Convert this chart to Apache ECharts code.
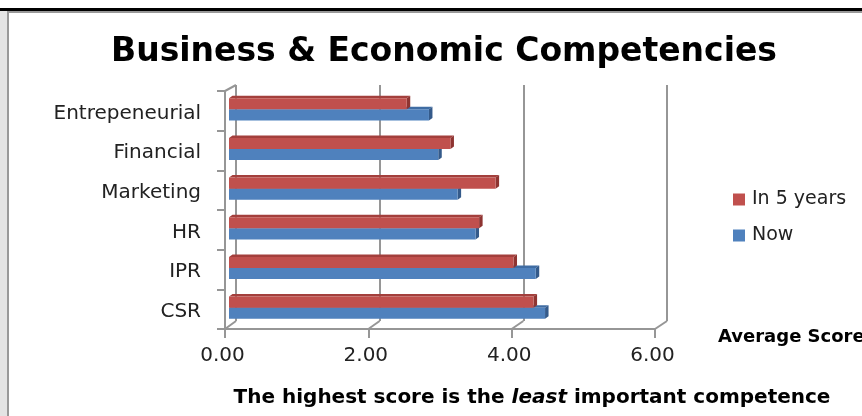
<!DOCTYPE html>
<html>
<head>
<meta charset="utf-8">
<script src="https://cdn.jsdelivr.net/npm/echarts@6/dist/echarts.min.js"></script>
<style>
  html, body { margin: 0; padding: 0; background: #fff; }
  #chart { width: 862px; height: 416px; }
</style>
</head>
<body>
<div id="chart"></div>
<script>
// ---- data ----
const categories = ['Entrepeneurial', 'Financial', 'Marketing', 'HR', 'IPR', 'CSR'];
const in5Years = [2.48, 3.09, 3.72, 3.49, 3.97, 4.25];
const nowScores = [2.79, 2.92, 3.19, 3.44, 4.28, 4.41];
const seriesNames = ['In 5 years', 'Now'];
const xMin = 0, xMax = 6, xStep = 2;
const titleText = 'Business & Economic Competencies';
const axisName = 'Average Score';

const RED = '#C0504D', RED_DARK = '#8E3431', RED_TOP = '#A33F3C';
const BLUE = '#4F81BD', BLUE_DARK = '#345A8A', BLUE_TOP = '#3F6CA3';
const GRID_COLOR = '#969696';
const LABEL_FONT = 'DejaVu Sans';

function bar3D(upper, front, top, side) {
  return function (params, api) {
    const v = api.value(0), ci = api.value(1);
    const p0 = api.coord([0, ci]);
    const p1 = api.coord([v, ci]);
    const bw = api.size([0, 1])[1];
    const h = bw * 0.28;
    const dx0 = 4, dy0 = -1.5;   // depth placement of bar
    const ddx = 3.5, ddy = -2.5; // bar depth
    const c = p0[1] + dy0;
    const yt = upper ? c - h : c;
    const yb = yt + h;
    const xl = p0[0] + dx0, xr = p1[0] + dx0;
    return {
      type: 'group',
      children: [
        { type: 'polygon', shape: { points: [[xl, yt], [xr, yt], [xr + ddx, yt + ddy], [xl + ddx, yt + ddy]] }, style: { fill: top } },
        { type: 'polygon', shape: { points: [[xr, yt], [xr, yb], [xr + ddx, yb + ddy], [xr + ddx, yt + ddy]] }, style: { fill: side } },
        { type: 'rect', shape: { x: xl, y: yt, width: xr - xl, height: h }, style: { fill: front } }
      ]
    };
  };
}

const chart = echarts.init(document.getElementById('chart'), null, { renderer: 'canvas' });

const option = {
  animation: false,
  backgroundColor: '#fff',
  title: [
    {
      text: titleText, left: 439, top: 31, textAlign: 'center',
      textStyle: { fontFamily: 'DejaVu Sans', fontWeight: 'bold', fontSize: 33, color: '#000' }
    },
    {
      text: '{b|The highest score is the }{i|least}{b| important competence}',
      left: 527, top: 383, textAlign: 'center',
      textStyle: {
        rich: {
          b: { fontFamily: 'DejaVu Sans', fontWeight: 'bold', fontSize: 20, color: '#000' },
          i: { fontFamily: 'DejaVu Sans', fontWeight: 'bold', fontStyle: 'italic', fontSize: 20, color: '#000' }
        }
      }
    }
  ],
  legend: {
    data: seriesNames, orient: 'vertical', left: 728, top: 185, itemGap: 17,
    itemWidth: 12, itemHeight: 12, icon: 'rect',
    textStyle: { fontFamily: LABEL_FONT, fontSize: 19, color: '#222', padding: [0, 0, 0, 2] }
  },
  grid: [
    { left: 225, right: 862 - 655, top: 91, bottom: 416 - 329, containLabel: false, outerBoundsMode: 'none' },
    { left: 236, right: 862 - 667, top: 85, bottom: 416 - 321, containLabel: false, outerBoundsMode: 'none' }
  ],
  xAxis: [
    {
      type: 'value', gridIndex: 0, min: xMin, max: xMax, interval: xStep,
      name: axisName, nameLocation: 'end', nameGap: 63,
      nameTextStyle: { fontFamily: 'DejaVu Sans', fontWeight: 'bold', fontSize: 18, color: '#000', align: 'left', verticalAlign: 'top', padding: [-1, 0, 0, 0] },
      axisLine: { show: true, lineStyle: { color: GRID_COLOR, width: 2 } },
      axisTick: { show: true, length: 9, lineStyle: { color: GRID_COLOR, width: 2 } },
      axisLabel: { margin: 17, fontFamily: LABEL_FONT, fontSize: 20, color: '#222', padding: [0, 5, 0, 0], formatter: v => v.toFixed(2) },
      splitLine: { show: false }
    },
    {
      type: 'value', gridIndex: 1, min: xMin, max: xMax, interval: xStep,
      axisLine: { show: false }, axisTick: { show: false }, axisLabel: { show: false },
      splitLine: { show: true, lineStyle: { color: GRID_COLOR, width: 2 } }
    }
  ],
  yAxis: [
    {
      type: 'category', gridIndex: 0, data: categories, inverse: true,
      axisLine: { show: true, lineStyle: { color: GRID_COLOR, width: 2 } },
      axisTick: { show: true, length: 8, lineStyle: { color: GRID_COLOR, width: 2 } },
      axisLabel: {
        margin: 24, formatter: v => '{a|' + v + '}',
        rich: { a: { fontFamily: LABEL_FONT, fontSize: 20, color: '#222', padding: [5, 0, 0, 0] } }
      }
    },
    {
      type: 'category', gridIndex: 1, data: categories, inverse: true,
      axisLine: { show: false }, axisTick: { show: false }, axisLabel: { show: false }, splitLine: { show: false }
    }
  ],
  series: [
    {
      name: seriesNames[1], type: 'custom', xAxisIndex: 0, yAxisIndex: 0,
      itemStyle: { color: BLUE },
      encode: { x: 0, y: 1 },
      renderItem: bar3D(false, BLUE, BLUE_TOP, BLUE_DARK),
      data: nowScores.map((v, i) => [v, i])
    },
    {
      name: seriesNames[0], type: 'custom', xAxisIndex: 0, yAxisIndex: 0,
      itemStyle: { color: RED },
      encode: { x: 0, y: 1 },
      renderItem: bar3D(true, RED, RED_TOP, RED_DARK),
      data: in5Years.map((v, i) => [v, i])
    }
  ]
};
chart.setOption(option);

// 3D wall connectors + outer frame, positioned from the axes' own pixel mapping
const lines = [];
for (let v = xMin; v <= xMax; v += xStep) {
  const fBottom = chart.convertToPixel({ xAxisIndex: 0 }, v);
  const bBottom = chart.convertToPixel({ xAxisIndex: 1 }, v);
  lines.push({ x1: fBottom, y1: 329, x2: bBottom, y2: 321 });
}
const fLeft = chart.convertToPixel({ xAxisIndex: 0 }, xMin);
const bLeft = chart.convertToPixel({ xAxisIndex: 1 }, xMin);
lines.push({ x1: fLeft, y1: 91, x2: bLeft, y2: 85 });

chart.setOption({
  graphic: [
    ...lines.map(s => ({ type: 'line', shape: s, style: { stroke: GRID_COLOR, lineWidth: 2 }, z: 1, silent: true })),
    { type: 'rect', shape: { x: 0, y: 8, width: 862, height: 3 }, style: { fill: '#000' }, silent: true },
    { type: 'rect', shape: { x: 0, y: 11, width: 7, height: 405 }, style: { fill: '#e4e4e4' }, silent: true },
    { type: 'rect', shape: { x: 7, y: 11, width: 855, height: 2 }, style: { fill: '#999' }, silent: true },
    { type: 'rect', shape: { x: 7, y: 11, width: 2, height: 405 }, style: { fill: '#999' }, silent: true }
  ]
});
</script>
</body>
</html>
